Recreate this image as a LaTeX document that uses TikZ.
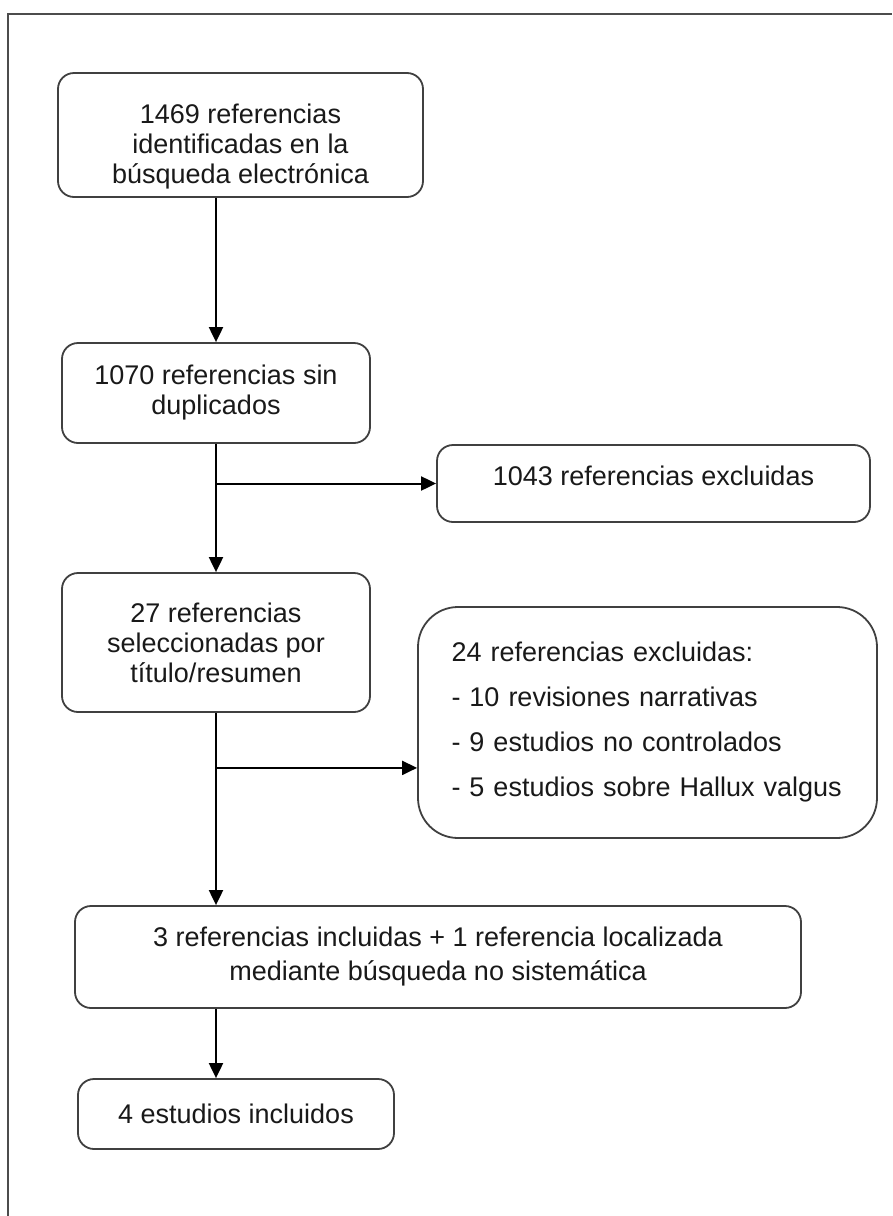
\documentclass[tikz,border=0pt]{standalone}
\usepackage{fontspec}
\setmainfont{Liberation Sans}
\usetikzlibrary{positioning,arrows.meta}

\begin{document}
\begin{tikzpicture}[x=1pt, y=-1pt, font=\fontsize{27}{30}\selectfont,
  box/.style={draw=black!75, line width=1.8pt, rounded corners=16pt, fill=white,
    inner sep=0pt, align=center, text=black!90},
  arr/.style={draw=black, line width=2pt, -{Triangle[length=15pt,width=14pt]}}]
  \useasboundingbox (0,0) rectangle (892,1216);
  % frame
  \draw[black!70, line width=2.5pt] (8,1216) -- (8,14) -- (892,14);
  % boxes
  \node[box, minimum width=365pt, minimum height=124pt] (ident) at (240.5,135)
    {\rule{0pt}{42pt}1469 referencias\\identificadas en la\\búsqueda electrónica};
  \node[box, minimum width=308pt, minimum height=100pt] (dedup) at (216,393)
    {1070 referencias sin\\duplicados};
  \node[box, minimum width=433pt, minimum height=77pt] (excl1) at (653.5,483.5)
    {\rule[-16pt]{0pt}{16pt}1043 referencias excluidas};
  \node[box, minimum width=308pt, minimum height=139pt] (titulo) at (216,642.5)
    {27 referencias\\seleccionadas por\\título/resumen};
  \node[box, rounded corners=40pt, minimum width=459pt, minimum height=231pt,
    text width=392pt, align=left, font=\fontsize{27}{45}\selectfont] (excl2) at (647.5,722.5)
    {24 referencias excluidas:\\- 10 revisiones narrativas\\- 9 estudios no controlados\\- 5 estudios sobre Hallux valgus};
  \node[box, minimum width=726pt, minimum height=102pt, font=\fontsize{27}{34}\selectfont] (incl) at (438,957)
    {3 referencias incluidas + 1 referencia localizada\\mediante búsqueda no sistemática};
  \node[box, minimum width=316pt, minimum height=70pt] (final) at (236,1114)
    {4 estudios incluidos};
  % arrows
  \draw[arr] (ident.south -| dedup.north) -- (dedup.north);
  \draw[arr] (dedup.south) -- (titulo.north);
  \coordinate (j1) at (dedup.south |- excl1.west);
  \draw[arr] (j1) -- (excl1.west);
  \draw[arr] (titulo.south) -- (titulo.south |- incl.north);
  \coordinate (j2) at ([yshift=-55pt]titulo.south);
  \draw[arr] (j2) -- (j2 -| excl2.west);
  \draw[arr] (incl.south -| dedup.south) -- (final.north -| dedup.south);
\end{tikzpicture}
\end{document}
